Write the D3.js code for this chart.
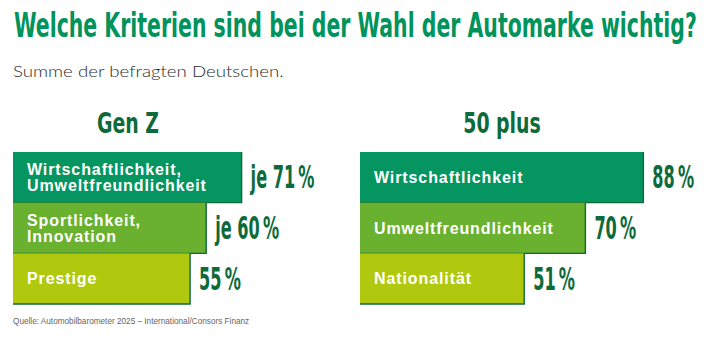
<!DOCTYPE html>
<html><head><meta charset="utf-8">
<script src="https://cdn.jsdelivr.net/npm/d3@7"></script>
<style>body{margin:0;background:#fff}svg{display:block}</style>
</head><body>
<svg id="c" width="710" height="339"></svg>
<script>
const title = "Welche Kriterien sind bei der Wahl der Automarke wichtig?";
const subtitle = "Summe der befragten Deutschen.";
const source = "Quelle: Automobilbarometer 2025 – International/Consors Finanz";
const groups = ["Gen Z", "50 plus"];
const genZLabels = [["Wirtschaftlichkeit,", "Umweltfreundlichkeit"], ["Sportlichkeit,", "Innovation"], ["Prestige"]];
const genZValues = [71, 60, 55];
const genZValueText = ["je 71\u202F%", "je 60\u202F%", "55\u202F%"];
const plusLabels = [["Wirtschaftlichkeit"], ["Umweltfreundlichkeit"], ["Nationalität"]];
const plusValues = [88, 70, 51];
const plusValueText = ["88\u202F%", "70\u202F%", "51\u202F%"];
const barColors = ["#049560", "#69b12f", "#b0c90f"];

const svg = d3.select("#c");
const green = "#00935c", dark = "#0d6a3a";
const narrow = "'Liberation Sans Narrow','DejaVu Sans Condensed',sans-serif";

// fit a text horizontally to a target width with a scale transform
function fitText(sel, x0, yb, w) {
  const n = sel.node().getComputedTextLength();
  sel.attr("transform", `translate(${x0},${yb}) scale(${w / n},1)`);
}

const tt = svg.append("text").text(title)
  .attr("font-family", narrow).attr("font-weight", 700).attr("font-size", 33.5).attr("fill", green);
fitText(tt, 14, 37.3, 683);
const st = svg.append("text").text(subtitle)
  .attr("font-family", "Lato,'Open Sans',sans-serif").attr("font-weight", 300).attr("font-size", 16.5)
  .attr("fill", "#2a2a2a");
fitText(st, 13, 77, 271);
const so = svg.append("text").text(source)
  .attr("font-family", "'Liberation Sans',sans-serif").attr("font-size", 9.4).attr("fill", "#666");
fitText(so, 13, 324, 236);

const x = d3.scaleLinear().domain([0, 100]).range([0, 322]);
const y = d3.scaleBand().domain([0, 1, 2]).range([152, 304]).padding(0);

function panel(x0, titleX, name, labels, values, vtext) {
  const g = svg.append("g");
  g.append("text").attr("transform", `translate(${titleX},133) scale(0.75,1)`)
    .attr("text-anchor", "middle").text(name)
    .attr("font-family", narrow).attr("font-weight", 700).attr("font-size", 28).attr("fill", dark);
  values.forEach((v, i) => {
    const y0 = y(i), h = y.bandwidth(), x1 = x0 + x(v);
    g.append("rect").attr("x", x0).attr("y", y0).attr("width", x(v)).attr("height", h).attr("fill", barColors[i]);
    g.append("path").attr("d", `M${x1},${y0}V${y0 + h}H${x0}`).attr("fill", "none")
      .attr("stroke", dark).attr("stroke-width", 1.4);
  });
  values.forEach((v, i) => {
    const y0 = y(i), h = y.bandwidth(), cy = y0 + h / 2, x1 = x0 + x(v);
    const lines = labels[i];
    const t = g.append("text").attr("font-family", "'Liberation Sans',Arial,sans-serif")
      .attr("font-weight", 700).attr("font-size", 16).attr("letter-spacing", 0.9).attr("fill", "#fff");
    lines.forEach((l, j) => {
      const base = lines.length === 1 ? cy + 5.5 : cy - 2.5 + j * 16;
      t.append("tspan").attr("x", x0 + 14).attr("y", base).text(l);
    });
    g.append("text").attr("transform", `translate(${x1 + 9},${cy + 11}) scale(0.56,1)`)
      .text(vtext[i]).attr("font-family", narrow).attr("font-weight", 700)
      .attr("font-size", 32).attr("fill", dark);
  });
}
panel(13, 128, groups[0], genZLabels, genZValues, genZValueText);
panel(360, 502, groups[1], plusLabels, plusValues, plusValueText);
</script>
</body></html>
